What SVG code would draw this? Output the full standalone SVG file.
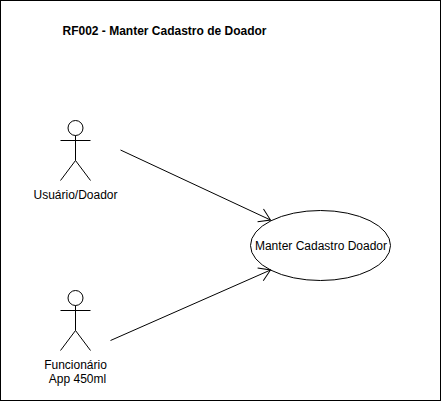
<svg xmlns="http://www.w3.org/2000/svg" width="441" height="401" viewBox="0 0 441 401">
<style>
.s{fill:none;stroke:#000;stroke-width:1}
.t{font-family:"Liberation Sans",Arial,sans-serif;font-size:12px;fill:#000;text-anchor:middle}
.b{font-weight:bold}
</style>
<defs>
<marker id="open" markerUnits="userSpaceOnUse" markerWidth="20" markerHeight="20" refX="15" refY="10" orient="auto" overflow="visible">
<path d="M4 3 L15 10 L4 17" fill="none" stroke="#000" stroke-width="1"/>
</marker>
</defs>
<rect width="441" height="401" fill="#fff"/>
<rect id="frame" class="s" x="0.5" y="0.5" width="440" height="400"/>
<g id="title"><text class="t b" x="164.5" y="35">RF002 - Manter Cadastro de Doador</text></g>
<g id="connectors">
<line class="s" x1="120.5" y1="150" x2="270.5" y2="220" marker-end="url(#open)"/>
<line class="s" x1="110.5" y1="340.5" x2="270.5" y2="270" marker-end="url(#open)"/>
</g>
<g id="actor-usuario">
<circle class="s" cx="75.5" cy="128" r="7.5"/>
<path class="s" d="M75.5 135.500V160.500M60.500 140.500H90.500M60.500 180.500L75.500 160.500L90.500 180.500"/>
<text class="t" x="75.500" y="199">Usuário/Doador</text>
</g>
<g id="actor-funcionario">
<circle class="s" cx="75.500" cy="298" r="7.5"/>
<path class="s" d="M75.500 305.500V330.500M60.500 310.500H90.500M60.500 350.500L75.500 330.500L90.500 350.500"/>
<text class="t" x="75.500" y="369">Funcionário</text>
<text class="t" x="77.500" y="383">App 450ml</text>
</g>
<g id="usecase">
<ellipse class="s" cx="320.500" cy="245.500" rx="70" ry="35"/>
<text class="t" x="321" y="250">Manter Cadastro Doador</text>
</g>
</svg>
